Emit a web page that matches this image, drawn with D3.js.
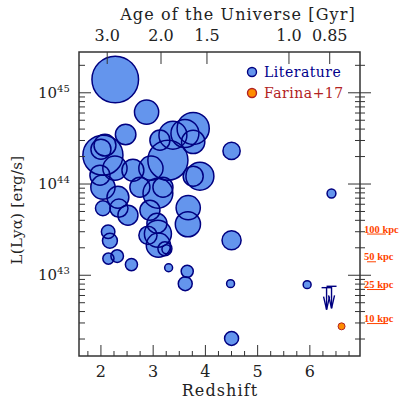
<!DOCTYPE html>
<html>
<head>
<meta charset="utf-8">
<script src="https://cdn.jsdelivr.net/npm/d3@7"></script>
<style>
  body { margin: 0; background: #fff; }
  text { font-family: "DejaVu Serif", serif; }
  text.kpc { font-family: "Liberation Serif", serif; font-weight: bold; }
</style>
</head>
<body>
<svg width="399" height="399"></svg>
<script>
let width = 399, height = 399,
    margin = ({ top: 52, right: 39, bottom: 43, left: 79 }); // plot box

// literature nebulae: redshift, log L(Lya), size (kpc)
const litZ = [2.274, 2.874, 2.473, 2.038, 2.000, 2.077, 1.981, 2.268, 2.038, 2.325,
              2.038, 2.344, 2.612, 2.517, 2.138, 2.172, 2.143, 2.311, 2.584,
              2.900, 3.091, 3.100, 3.225, 3.253, 3.296, 3.665, 3.671, 3.652, 3.614,
              3.282, 2.957, 3.091, 2.938, 2.746, 3.072, 3.187, 3.766, 3.608, 3.766,
              3.895, 3.766, 3.378, 3.129,
              4.501, 4.501, 4.482, 4.501, 6.414, 5.948]
const litLogL = [45.146, 44.788, 44.543, 44.316, 44.382, 44.426, 44.097, 44.173, 43.965, 43.855,
                 43.735, 43.735, 44.151, 43.658, 43.477, 43.378, 43.183, 43.210, 43.117,
                 43.438, 43.455, 43.329, 43.290, 43.285, 43.082, 43.559, 43.740, 43.043, 42.908,
                 44.261, 44.173, 43.899, 43.713, 43.965, 43.570, 43.965, 44.609, 44.554, 44.462,
                 44.086, 44.086, 44.535, 44.481,
                 44.363, 43.383, 42.908, 42.308, 43.896, 42.897]
const litSize = [100, 52, 44, 86, 43, 47, 43, 52, 52, 47,
                 32, 39, 47, 43, 29, 32, 24, 27, 26,
                 39, 58, 52, 30, 19, 17, 54, 52, 26, 30,
                 86, 52, 64, 43, 43, 43, 43, 69, 60, 50,
                 60, 43, 60, 43,
                 37, 41, 17, 30, 19, 17]

// Farina+17 detection and upper limits
const farZ = [6.607], farLogL = [42.440], farSize = [15]
const limZ = [6.320, 6.415], limLogL = [42.864, 42.879]

// top axis: age of the universe at given redshift
const ageLabels = ["3.0", "2.0", "1.5", "1.0", "0.85"]
const ageZ = [2.12, 3.15, 4.03, 5.60, 6.38]

// right-hand size ruler
const kpcLabels = ["100 kpc", "50 kpc", "25 kpc", "10 kpc"]
const kpcLogL = [43.468, 43.164, 42.860, 42.487]
const kpcLine = [19, 9, 18, 21]

const svg = d3.select("svg")
const x0 = margin.left, x1 = width - margin.right,
      y0 = margin.top, y1 = height - margin.bottom

const xScale = d3.scaleLinear().domain([1.58, 6.96]).range([x0, x1])
const yScale = d3.scaleLog().domain([Math.pow(10, 42.115), Math.pow(10, 45.447)]).range([y1, y0])
const rScale = d3.scaleLinear().domain([0, 100]).range([0, 23.3])

const ink = "#333"

// circles: fills first, then every outline on top
const lit = litZ.map((z, i) => ({ z: z, L: Math.pow(10, litLogL[i]), s: litSize[i] }))
svg.append("g").selectAll("circle")
  .data(lit)
  .join("circle")
  .attr("cx", d => xScale(d.z))
  .attr("cy", d => yScale(d.L))
  .attr("r", d => rScale(d.s))
  .attr("fill", "#6495ED")
svg.append("g").selectAll("circle")
  .data(lit)
  .join("circle")
  .attr("cx", d => xScale(d.z))
  .attr("cy", d => yScale(d.L))
  .attr("r", d => rScale(d.s))
  .attr("fill", "none")
  .attr("stroke", "#000080")
  .attr("stroke-width", 1.5)

svg.append("g").selectAll("circle")
  .data(farZ.map((z, i) => ({ z: z, L: Math.pow(10, farLogL[i]), s: farSize[i] })))
  .join("circle")
  .attr("cx", d => xScale(d.z))
  .attr("cy", d => yScale(d.L))
  .attr("r", d => rScale(d.s))
  .attr("fill", "#FF8C00")
  .attr("stroke", "#B22222")
  .attr("stroke-width", 1)

// upper limits
const lim = svg.append("g").attr("stroke", "#000080").attr("stroke-width", 1.4).attr("fill", "none")
limZ.forEach((z, i) => {
  let cx = xScale(z), cy = yScale(Math.pow(10, limLogL[i])), tip = cy + 22
  lim.append("line").attr("x1", cx - 5).attr("x2", cx + 5).attr("y1", cy).attr("y2", cy)
  lim.append("line").attr("x1", cx).attr("x2", cx).attr("y1", cy).attr("y2", tip)
  lim.append("path").attr("d", `M${cx - 3},${tip - 13}L${cx},${tip}L${cx + 3},${tip - 13}`)
})

// frame
svg.append("rect")
  .attr("x", x0).attr("y", y0).attr("width", x1 - x0).attr("height", y1 - y0)
  .attr("fill", "none").attr("stroke", ink).attr("stroke-width", 1.5)

// bottom axis ticks
const xt = svg.append("g").attr("stroke", ink).attr("stroke-width", 1)
d3.range(1.75, 6.96, 0.25).forEach(v => {
  let major = Math.abs(v - Math.round(v)) < 1e-6
  xt.append("line").attr("x1", xScale(v)).attr("x2", xScale(v))
    .attr("y1", y1).attr("y2", y1 - (major ? 11 : 5))
})
svg.append("g").selectAll("text")
  .data([2, 3, 4, 5, 6])
  .join("text")
  .attr("x", d => xScale(d)).attr("y", 377)
  .attr("text-anchor", "middle").attr("font-size", 16).attr("fill", "#222")
  .text(d => d)

svg.append("text")
  .attr("x", 220).attr("y", 396)
  .attr("text-anchor", "middle").attr("font-size", 16).attr("letter-spacing", 1.1).attr("fill", "#222")
  .text("Redshift")

// top axis
ageZ.forEach(z => {
  xt.append("line").attr("x1", xScale(z)).attr("x2", xScale(z)).attr("y1", y0).attr("y2", y0 + 12)
})
svg.append("g").selectAll("text")
  .data(ageLabels)
  .join("text")
  .attr("x", (d, i) => xScale(ageZ[i])).attr("y", 41)
  .attr("text-anchor", "middle").attr("font-size", 16).attr("fill", "#222")
  .text(d => d)

svg.append("text")
  .attr("x", 238).attr("y", 20)
  .attr("text-anchor", "middle").attr("font-size", 16).attr("letter-spacing", 1.1).attr("fill", "#222")
  .text("Age of the Universe [Gyr]")

// left + right axis ticks
const yTicks = yScale.ticks()
yTicks.forEach(t => {
  let major = Math.abs(Math.log10(t) - Math.round(Math.log10(t))) < 1e-6
  let ty = yScale(t)
  xt.append("line").attr("x1", x0).attr("x2", x0 + (major ? 12 : 6)).attr("y1", ty).attr("y2", ty)
  xt.append("line").attr("x1", x1 - (major ? 12 : 5)).attr("x2", x1 + (major ? 11 : 5)).attr("y1", ty).attr("y2", ty)
})
const yl = svg.append("g").selectAll("text")
  .data(yTicks.filter(t => Math.abs(Math.log10(t) - Math.round(Math.log10(t))) < 1e-6))
  .join("text")
  .attr("x", 38).attr("y", d => yScale(d) + 5)
  .attr("font-size", 15).attr("fill", "#222")
yl.append("tspan").text("10")
yl.append("tspan").attr("dy", -6).attr("font-size", 10).text(d => Math.round(Math.log10(d)))

svg.append("text")
  .attr("transform", "translate(22,210) rotate(-90)")
  .attr("text-anchor", "middle").attr("font-size", 15).attr("letter-spacing", 0.3).attr("fill", "#222")
  .text("L(Lyα) [erg/s]")

// size ruler on the right
kpcLabels.forEach((k, i) => {
  let ky = yScale(Math.pow(10, kpcLogL[i]))
  svg.append("text").attr("class", "kpc").attr("x", 364).attr("y", ky)
    .attr("font-size", 10.5).attr("fill", "#FF4500")
    .text(k)
  svg.append("line").attr("x1", 367).attr("x2", 367 + kpcLine[i])
    .attr("y1", ky + 1.5).attr("y2", ky + 1.5)
    .attr("stroke", "#FF4500").attr("stroke-width", 1)
})

// legend
const legend = [
  { label: "Literature", fill: "#6495ED", stroke: "#000080", color: "#00008B", y: 72 },
  { label: "Farina+17", fill: "#FF8C00", stroke: "#B22222", color: "#B22222", y: 93 }
]
legend.forEach(l => {
  svg.append("circle").attr("cx", 252).attr("cy", l.y).attr("r", 4.5)
    .attr("fill", l.fill).attr("stroke", l.stroke).attr("stroke-width", 1.4)
  svg.append("text").attr("x", 264).attr("y", l.y + 5)
    .attr("font-size", 14).attr("letter-spacing", 0.5).attr("fill", l.color)
    .text(l.label)
})
</script>
</body>
</html>
